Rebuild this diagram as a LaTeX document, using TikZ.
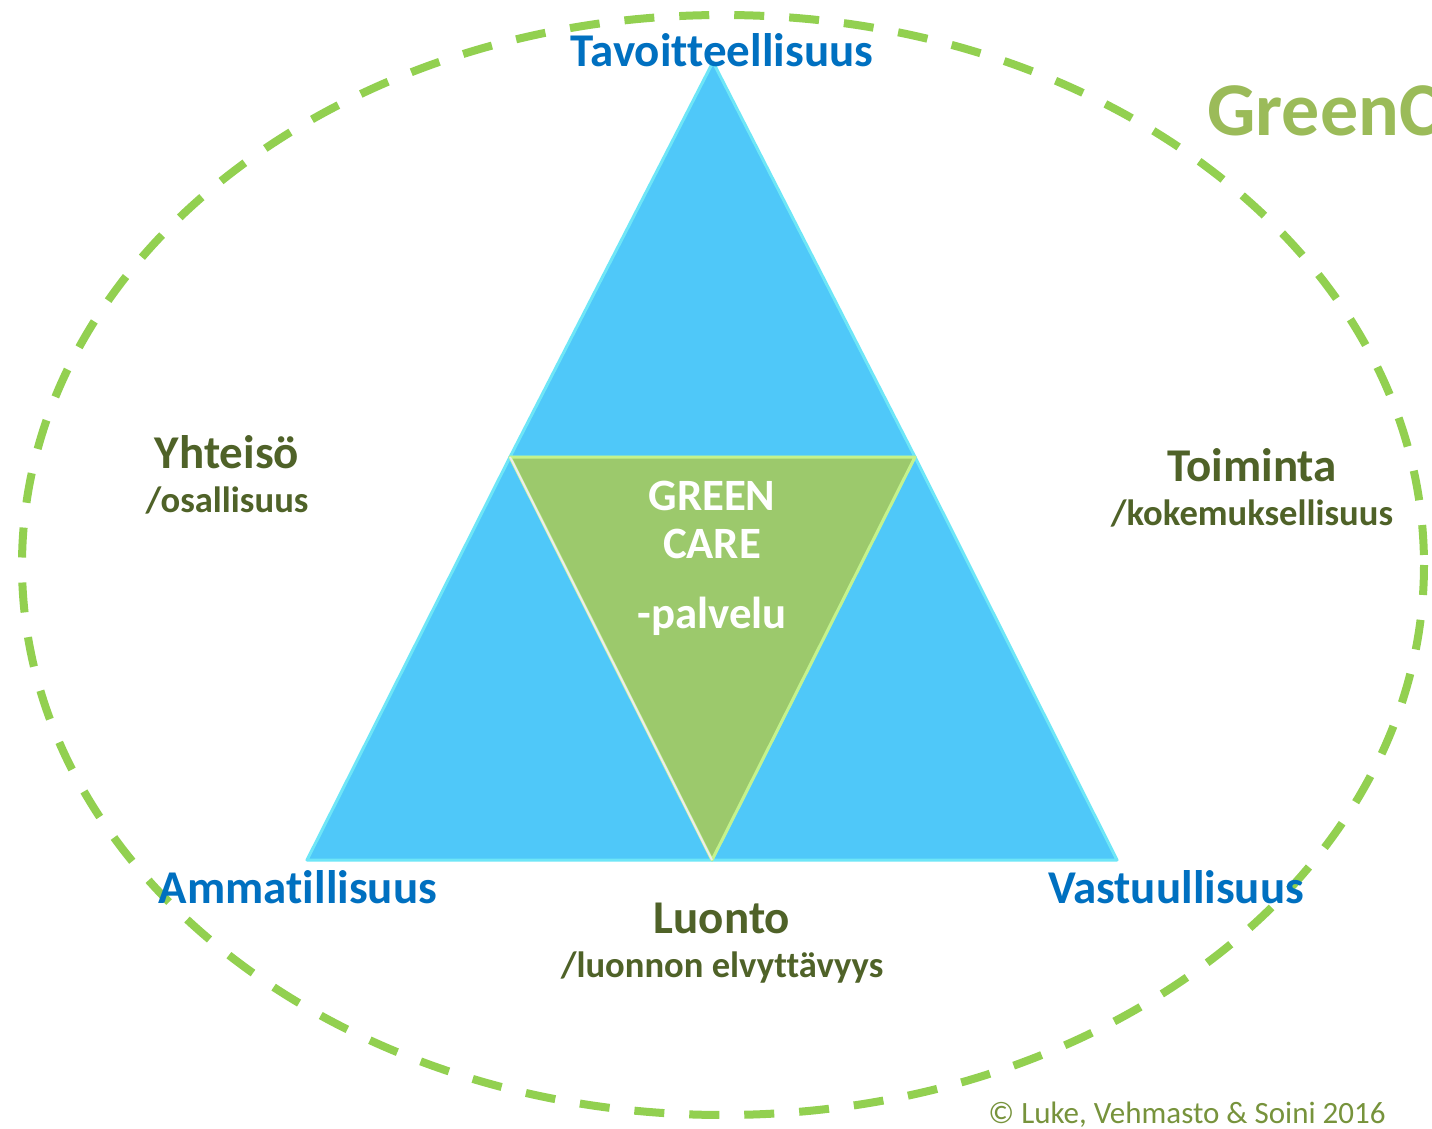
\documentclass[tikz,border=0pt]{standalone}
\usepackage{fontspec}
\setmainfont[Ligatures=CommonOff]{Carlito}
\usepackage{tikz}

\definecolor{LukeBlue}{HTML}{0070C0}
\definecolor{LukeOlive}{HTML}{4F6228}
\definecolor{DashGreen}{HTML}{92D050}
\definecolor{TitleGreen}{HTML}{9BBB59}
\definecolor{CopyGreen}{HTML}{77933C}
\definecolor{TriBlue}{HTML}{4FC8F9}
\definecolor{TriEdge}{HTML}{6EE6F7}
\definecolor{TriGreen}{HTML}{9CC96C}
\definecolor{TriGreenEdge}{HTML}{C4F28C}

\tikzset{
  corner/.style = {font=\bfseries\fontsize{23.5}{27}\selectfont, text=LukeBlue, anchor=base},
  theme/.style = {font=\bfseries\fontsize{23.5}{27}\selectfont, text=LukeOlive, anchor=base},
  subtheme/.style = {font=\bfseries\fontsize{18.3}{22}\selectfont, text=LukeOlive, anchor=base},
  inner/.style = {font=\bfseries\fontsize{22.4}{26}\selectfont, text=white, anchor=base}
}

\begin{document}
\begin{tikzpicture}[x = 0.5pt, y = -0.5pt]
              \useasboundingbox (0,0) rectangle (1432,1129);
              \clip (0,0) rectangle (1432,1129);
              \fill [fill = white] (0,0) rectangle (1432,1129);
              % dashed frame
              \draw [draw = DashGreen, line width = 4pt, dash pattern = on 15pt off 12.5pt] (723,565) ellipse (701 and 550);
              % triangle corners
              \coordinate (top) at (713,62);
              \coordinate (left) at (307,860);
              \coordinate (right) at (1117,860);
              \coordinate (midL) at (510,457);
              \coordinate (midR) at (915,457);
              \coordinate (midB) at (712,860);
              % blue triangles
              \foreach \a/\b/\c in {top/midR/midL, midL/midB/left, midR/right/midB}
              {\fill [fill = TriBlue] (\a) -- (\b) -- (\c) -- cycle;
              \draw [draw = TriEdge, line width = 1.5pt, line join = round] (\a) -- (\b) -- (\c) -- cycle;}
              % green triangle
              \fill [fill = TriGreen] (midL) -- (midR) -- (midB) -- cycle;
              \draw [draw = TriGreenEdge, line width = 1.5pt, line join = round] (midL) -- (midR) -- (midB) -- cycle;
              \draw [draw = white!85!gray, line width = 1pt] (midL) -- (midB);
              % labels
              \node [corner] (tavoite) at (722,67) {Tavoitteellisuus};
              \node [corner] (ammatti) at (298,903) {Ammatillisuus};
              \node [corner] (vastuu) at (1176,903) {Vastuullisuus};
              \node [theme] (yhteiso) at (227,468) {Yhteisö};
              \node [subtheme] (osallisuus) at (227,512) {/osallisuus};
              \node [theme] (toiminta) at (1252,481) {Toiminta};
              \node [subtheme] (kokemus) at (1252,525) {/kokemuksellisuus};
              \node [theme] (luonto) at (722,933) {Luonto};
              \node [subtheme] (elvytys) at (722,977) {/luonnon elvyttävyys};
              \node [inner] (green) at (712,510) {GREEN};
              \node [inner] (care) at (712,558) {CARE};
              \node [inner] (palvelu) at (712,628) {-palvelu};
              \node [font=\bfseries\fontsize{38}{44}\selectfont, text=TitleGreen, anchor=base west, inner xsep=0pt] (otsikko) at (1207,136) {GreenCare};
              \node [font=\fontsize{15.5}{18}\selectfont, text=CopyGreen, anchor=base] (tekijat) at (1187,1123) {© Luke, Vehmasto \& Soini 2016};
            \end{tikzpicture}
\end{document}
